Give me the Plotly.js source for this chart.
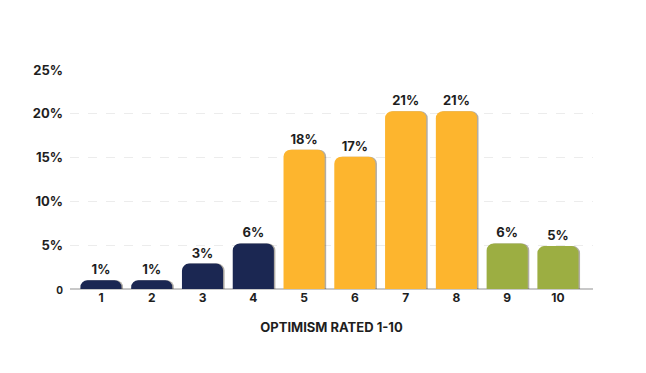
<!DOCTYPE html>
<html>
<head>
<meta charset="utf-8">
<script src="https://cdn.plot.ly/plotly-3.0.1.min.js"></script>
<style>html,body{margin:0;padding:0;background:#fff;}#chart{width:646px;height:373px;}</style>
</head>
<body>
<div id="chart"></div>
<script>
const categories = ['1','2','3','4','5','6','7','8','9','10'];
const values = [1.0, 1.0, 2.9, 5.2, 15.9, 15.1, 20.3, 20.3, 5.2, 4.9];
const labels = ['1%','1%','3%','6%','18%','17%','21%','21%','6%','5%'];
const groupColors = ['#1b2752','#1b2752','#1b2752','#1b2752','#fdb52e','#fdb52e','#fdb52e','#fdb52e','#9cae42','#9cae42'];
const yTickVals = [0, 5, 10, 15, 20, 25];
const yTickText = ['<span style="font-size:10px">0</span>', '5%', '10%', '15%', '20%', '25%'];

const xs = categories.map(Number);
const font = {family: 'Inter, "Open Sans", sans-serif', color: '#1e1e1e', size: 13, weight: 700};

const shadow = {
  type: 'bar', x: xs, y: values,
  width: 0.81, offset: -0.405 + 0.03,
  marker: {color: 'rgba(60,50,30,0.4)', cornerradius: 7},
  hoverinfo: 'skip', showlegend: false
};
const bars = {
  type: 'bar', x: xs, y: values,
  width: 0.81, offset: -0.405,
  marker: {color: groupColors, cornerradius: 7},
  text: labels, textposition: 'outside', cliponaxis: false,
  textfont: {family: font.family, size: 13, color: '#1e1e1e', weight: 700},
  showlegend: false
};

const layout = {
  width: 646, height: 373,
  margin: {l: 70, r: 53, t: 70, b: 84},
  paper_bgcolor: '#fff', plot_bgcolor: '#fff',
  barmode: 'overlay',
  font: font,
  xaxis: {
    range: [0.39, 10.69],
    tickvals: xs, ticktext: categories,
    showgrid: false, zeroline: false,
    showline: false, ticks: '',
    tickfont: {family: font.family, size: 12, color: '#1e1e1e', weight: 700},
    title: {text: 'OPTIMISM RATED 1-10', font: {family: font.family, size: 13, color: '#1e1e1e', weight: 700}, standoff: 18}
  },
  yaxis: {
    range: [0, 25],
    tickvals: yTickVals, ticktext: yTickText,
    showgrid: true, gridcolor: '#ececec', griddash: 'dash', gridwidth: 1,
    zeroline: true, zerolinecolor: '#c8c8c8', zerolinewidth: 1.5,
    ticks: '', ticklabelstandoff: 6,
    tickfont: {family: font.family, size: 13, color: '#1e1e1e', weight: 700}
  }
};

Plotly.newPlot('chart', [shadow, bars], layout, {displayModeBar: false, staticPlot: true});
</script>
</body>
</html>
